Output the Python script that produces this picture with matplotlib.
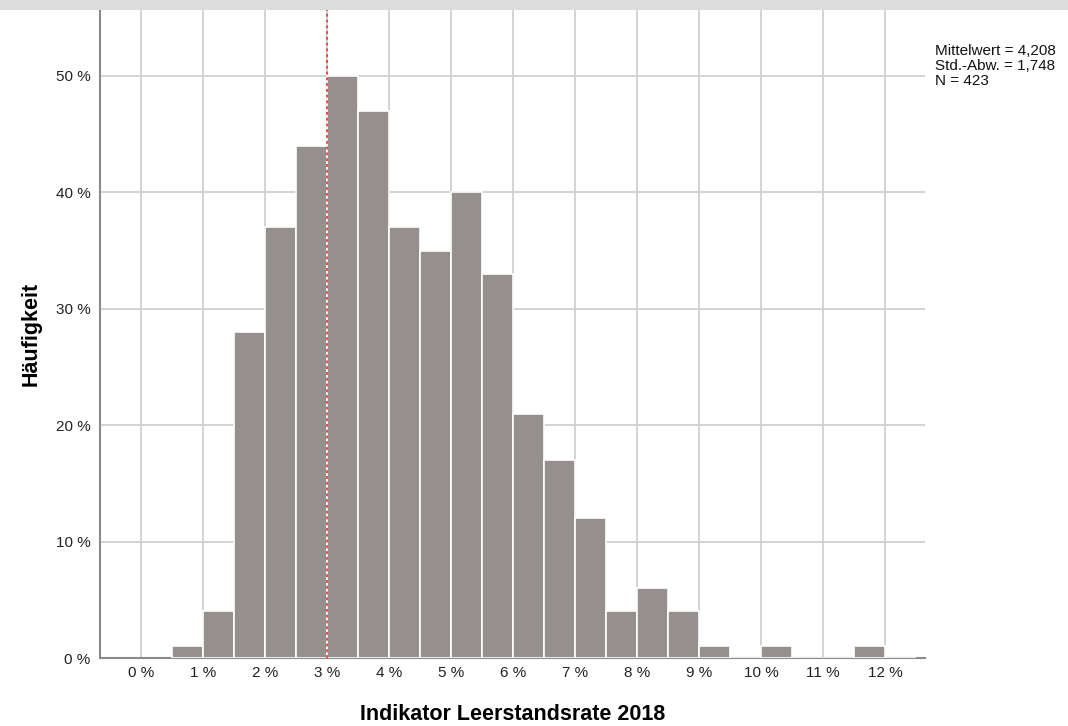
import matplotlib
matplotlib.use("Agg")
import matplotlib.pyplot as plt
from matplotlib.patches import Rectangle
import numpy as np

plt.rcParams['font.family'] = ['Liberation Sans', 'DejaVu Sans']

bin_start = 0.5
bin_width = 0.5
counts = [1, 4, 28, 37, 44, 50, 47, 37, 35, 40, 33, 21, 17, 12, 4, 6, 4, 1, 0, 1, 0, 0, 1, 0]
x_ticks = list(range(0, 13))
x_labels = [f"{t} %" for t in x_ticks]
y_ticks = [0, 10, 20, 30, 40, 50]
y_labels = [f"{t} %" for t in y_ticks]
mean_line_x = 3.0
stats_text = "Mittelwert = 4,208\nStd.-Abw. = 1,748\nN = 423"
x_title = "Indikator Leerstandsrate 2018"
y_title = "Häufigkeit"

W, H = 1068, 726
fig = plt.figure(figsize=(W / 100, H / 100), dpi=100)
fig.patch.set_facecolor("white")
fig.patches.append(Rectangle((0, 1 - 10 / H), 1, 10 / H, transform=fig.transFigure,
                             facecolor="#dcdcdc", edgecolor="none", zorder=0))

ax = fig.add_axes([100 / W, (H - 658) / H, 825 / W, 648 / H])
edges = bin_start + bin_width * np.arange(len(counts))
ax.bar(edges, counts, width=bin_width, align="edge", color="#958f8d",
       edgecolor="white", linewidth=1.2, zorder=3)

ax.set_xlim(-0.661, 12.645)
ax.set_ylim(0, 55.67)
ax.set_xticks(x_ticks)
ax.set_xticklabels(x_labels)
ax.set_yticks(y_ticks)
ax.set_yticklabels(y_labels)
ax.tick_params(axis="both", length=0, labelsize=11, colors="#222222")
ax.tick_params(axis="x", pad=6)
ax.tick_params(axis="y", pad=7)
ax.grid(True, color="#cccccc", linewidth=1.2, zorder=0)
ax.set_axisbelow(True)
for s in ["top", "right"]:
    ax.spines[s].set_visible(False)
for s in ["left", "bottom"]:
    ax.spines[s].set_color("#8a8a8a")
    ax.spines[s].set_linewidth(1.5)

ax.axvline(mean_line_x, color="#ff3b3b", linestyle=(0, (1.6, 1.6)), linewidth=1.3, zorder=4)

ax.set_xlabel(x_title, fontsize=15.5, fontweight="bold", labelpad=17)
ax.set_ylabel(y_title, fontsize=15.5, fontweight="bold", labelpad=10)

fig.text(935 / W, 1 - 44 / H, stats_text, fontsize=11, va="top", ha="left",
         linespacing=1.1, color="#111111")

fig.savefig("out.png", dpi=100)
